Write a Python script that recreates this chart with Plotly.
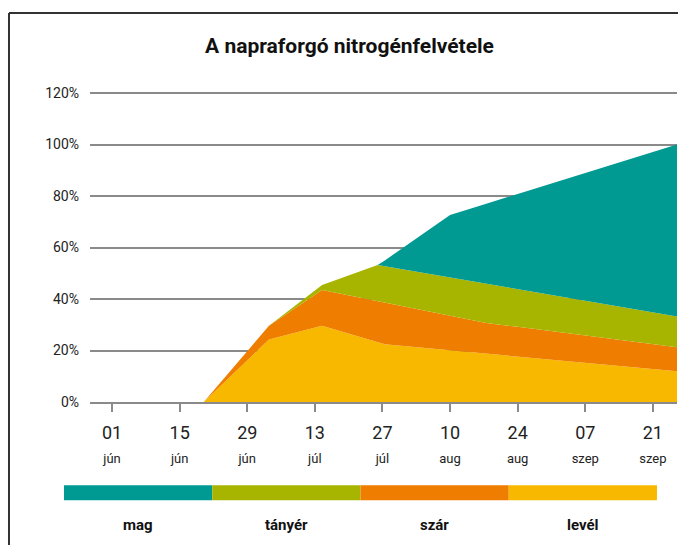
import plotly.graph_objects as go

# ---- data ----
dates = ["2023-06-20", "2023-07-03 12:00", "2023-07-14 12:00", "2023-07-26",
         "2023-07-27 12:00", "2023-08-10", "2023-08-17 12:00", "2023-08-24",
         "2023-09-26"]
level = [0, 24.3, 29.6, 23.2, 22.4, 20.1, 18.8, 17.6, 11.9]
szar = [0, 5.3, 13.9, 15.9, 16.2, 13.4, 11.9, 11.6, 9.4]
tanyer = [0, 0, 1.9, 14.1, 14.1, 14.9, 15.2, 14.6, 11.9]
mag = [0, 0, 0, 0, 2.3, 24.2, 31.1, 37.0, 66.8]

series_names = ["mag", "tányér", "szár", "levél"]
series_colors = ["#009A93", "#A8B500", "#EF7D00", "#F9B800"]

tick_dates = ["2023-06-01", "2023-06-15", "2023-06-29", "2023-07-13", "2023-07-27",
              "2023-08-10", "2023-08-24", "2023-09-07", "2023-09-21"]
tick_days = ["01", "15", "29", "13", "27", "10", "24", "07", "21"]
tick_months = ["jún", "jún", "jún", "júl", "júl", "aug", "aug", "szep", "szep"]

y_ticks = [0, 20, 40, 60, 80, 100, 120]

FONT = "Roboto, Liberation Sans, sans-serif"

fig = go.Figure()
values = {"levél": level, "szár": szar, "tányér": tanyer, "mag": mag}
for name in ["levél", "szár", "tányér", "mag"]:
    col = series_colors[series_names.index(name)]
    fig.add_trace(go.Scatter(
        x=dates, y=values[name], name=name, stackgroup="one",
        mode="lines", line=dict(width=0, color=col), fillcolor=col,
        hoverinfo="x+y+name"))

ticktext = [f"{d}<br><span style='font-size:13px'>{m}</span>" for d, m in zip(tick_days, tick_months)]

W, H = 678, 545
fig.update_layout(
    width=W, height=H,
    margin=dict(l=90, r=1, t=92, b=143),
    paper_bgcolor="white", plot_bgcolor="white",
    showlegend=False,
    font=dict(family=FONT, color="#222222"),
    title=dict(text="<b>A napraforgó nitrogénfelvétele</b>",
               x=349.5 / W, xref="container", xanchor="center",
               y=1 - 46 / H, yref="container", yanchor="middle",
               font=dict(size=21, family=FONT, color="#111111")),
    xaxis=dict(
        type="date",
        range=["2023-05-27 10:30", "2023-09-26"],
        tickvals=tick_dates, ticktext=ticktext,
        tickfont=dict(size=18, family=FONT, color="#222222"),
        showgrid=False, zeroline=False,
        showline=True, linecolor="#8a8a8a", linewidth=1.5,
        ticks="outside", ticklen=8, tickwidth=1.5, tickcolor="#8a8a8a",
        ticklabelstandoff=6,
    ),
    yaxis=dict(
        range=[0, 120.4],
        tickvals=y_ticks, ticktext=[f"{v}%" for v in y_ticks],
        tickfont=dict(size=14, family=FONT, color="#222222"),
        showgrid=True, gridcolor="#8a8a8a", gridwidth=1.5,
        zeroline=False, showline=False, ticks="",
        ticklabelstandoff=10,
    ),
)

# frame (top and left edges visible, the rest runs off the page)
fig.add_shape(type="line", xref="paper", yref="paper",
              x0=-0.138, x1=1.2, y0=1.255, y1=1.255,
              line=dict(color="#333333", width=2))
fig.add_shape(type="line", xref="paper", yref="paper",
              x0=-0.138, x1=-0.138, y0=-0.7, y1=1.255,
              line=dict(color="#333333", width=2))

# custom legend: colored bars with labels below
bar_left, bar_right = -0.0443, 0.9659
seg = (bar_right - bar_left) / len(series_names)
for i, (name, col) in enumerate(zip(series_names, series_colors)):
    x0 = bar_left + i * seg
    fig.add_shape(type="rect", xref="paper", yref="paper",
                  x0=x0, x1=x0 + seg, y0=-0.3172, y1=-0.2686,
                  line=dict(width=0), fillcolor=col)
    fig.add_annotation(xref="paper", yref="paper", x=x0 + seg / 2, y=-0.398,
                       text=f"<b>{name}</b>", showarrow=False,
                       xanchor="center", yanchor="middle",
                       font=dict(size=15, family=FONT, color="#111111"))

fig.write_html(
    "out.html",
    config={"displayModeBar": False},
    post_script="document.body.style.margin='0';document.body.style.overflow='hidden';",
)
